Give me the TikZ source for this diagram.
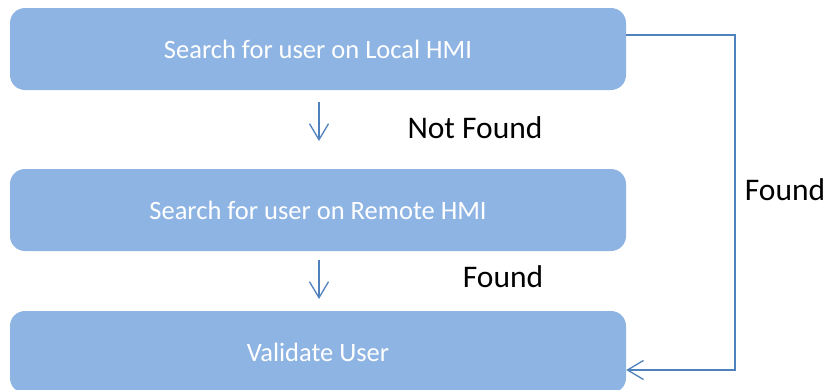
\documentclass[tikz,border=0pt]{standalone}
\usepackage{fontspec}
\setmainfont{Carlito}
\usetikzlibrary{arrows.meta}
\definecolor{boxblue}{HTML}{8EB4E3}
\definecolor{lineblue}{HTML}{4F81BD}
\begin{document}
\begin{tikzpicture}[x=1pt,y=-1pt,
  flowbox/.style={fill=boxblue,draw=none,rounded corners=15pt,minimum width=616pt,minimum height=82pt,text=white,font=\fontsize{26.5}{30}\selectfont,inner sep=0pt},
  lbl/.style={font=\fontsize{31.5}{36}\selectfont,text=black,inner sep=0pt},
  conn/.style={draw=lineblue,line width=1.3pt,-{Straight Barb[length=16pt,width=19pt,line width=1.3pt]}}]
\useasboundingbox (0,0) rectangle (835,389);
\clip (0,0) rectangle (835,389);
\node[flowbox] (b1) at (318,49) {Search for user on Local HMI};
\node[flowbox] (b2) at (318,210) {Search for user on Remote HMI};
\node[flowbox] (b3) at (318,352) {Validate User};
\coordinate (a1s) at (319,102);
\coordinate (a1e) at (319,141);
\coordinate (a2s) at (319,260);
\coordinate (a2e) at (319,299);
\draw[conn] (a1s) -- (a1e);
\draw[conn] (a2s) -- (a2e);
\coordinate (r1) at (735,35);
\coordinate (r2) at (735,370);
\draw[conn] (b1.east |- r1) -- (r1) -- (r2) -- (b3.east |- r2);
\node[lbl] (nf) at (475,128) {Not Found};
\node[lbl] (f1) at (503,277) {Found};
\node[lbl] (f2) at (785,190) {Found};
\end{tikzpicture}
\end{document}
